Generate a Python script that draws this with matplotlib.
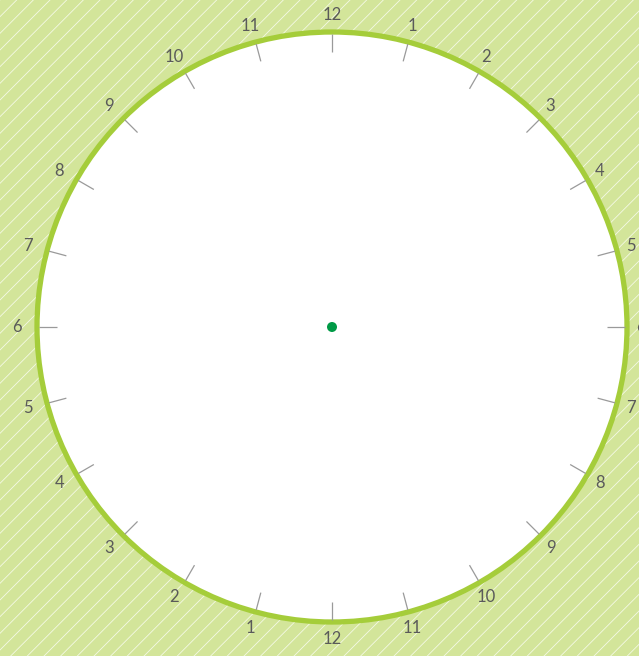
import matplotlib.pyplot as plt
import matplotlib.patches as patches
import numpy as np

# 24 positions, clockwise from the top: the 12-hour scale runs twice
hour_labels = ["12", "1", "2", "3", "4", "5", "6", "7", "8", "9", "10", "11",
               "12", "1", "2", "3", "4", "5", "6", "7", "8", "9", "10", "11"]
n_hours = len(hour_labels)

W, H = 639, 656
cx, cy = 332, 327          # centre of the dial, pixels
r_face = 295
r_tick_in = 275
r_label = 312
label_dx = -3              # labels sit a little left of the dial centre

bg_color = "#d3e59a"
rim_color = "#a5cd3a"
tick_color = "#9a9a9a"
text_color = "#5a5a5a"
dot_color = "#009a46"

plt.rcParams['hatch.linewidth'] = 0.6
plt.rcParams['hatch.color'] = (1, 1, 1, 0.75)

fig = plt.figure(figsize=(W / 100, H / 100), dpi=100)
ax = fig.add_axes([0, 0, 1, 1])
ax.set_xlim(0, W)
ax.set_ylim(H, 0)
ax.axis('off')

# striped background
bg = patches.Rectangle((0, 0), W, H, facecolor=bg_color,
                       hatch='//', linewidth=0, zorder=0)
ax.add_patch(bg)

# dial face
face = patches.Circle((cx, cy), r_face, facecolor='white', edgecolor=rim_color,
                      linewidth=3.8, zorder=1)
ax.add_patch(face)

# ticks and labels
for i, lab in enumerate(hour_labels):
    a = np.deg2rad(i * 360.0 / n_hours)
    sx, sy = np.sin(a), -np.cos(a)
    ax.plot([cx + r_tick_in * sx, cx + (r_face - 2) * sx],
            [cy + r_tick_in * sy, cy + (r_face - 2) * sy],
            color=tick_color, lw=0.9, zorder=2, solid_capstyle='butt')
    ax.text(cx + label_dx * abs(sx) + r_label * sx, cy + r_label * sy, lab,
            ha='center', va='center',
            fontsize=12, color=text_color, family='Lato', zorder=3)

# centre dot
ax.add_patch(patches.Circle((cx, cy), 5, facecolor=dot_color, edgecolor='none', zorder=4))

fig.savefig('out.png', dpi=100)
